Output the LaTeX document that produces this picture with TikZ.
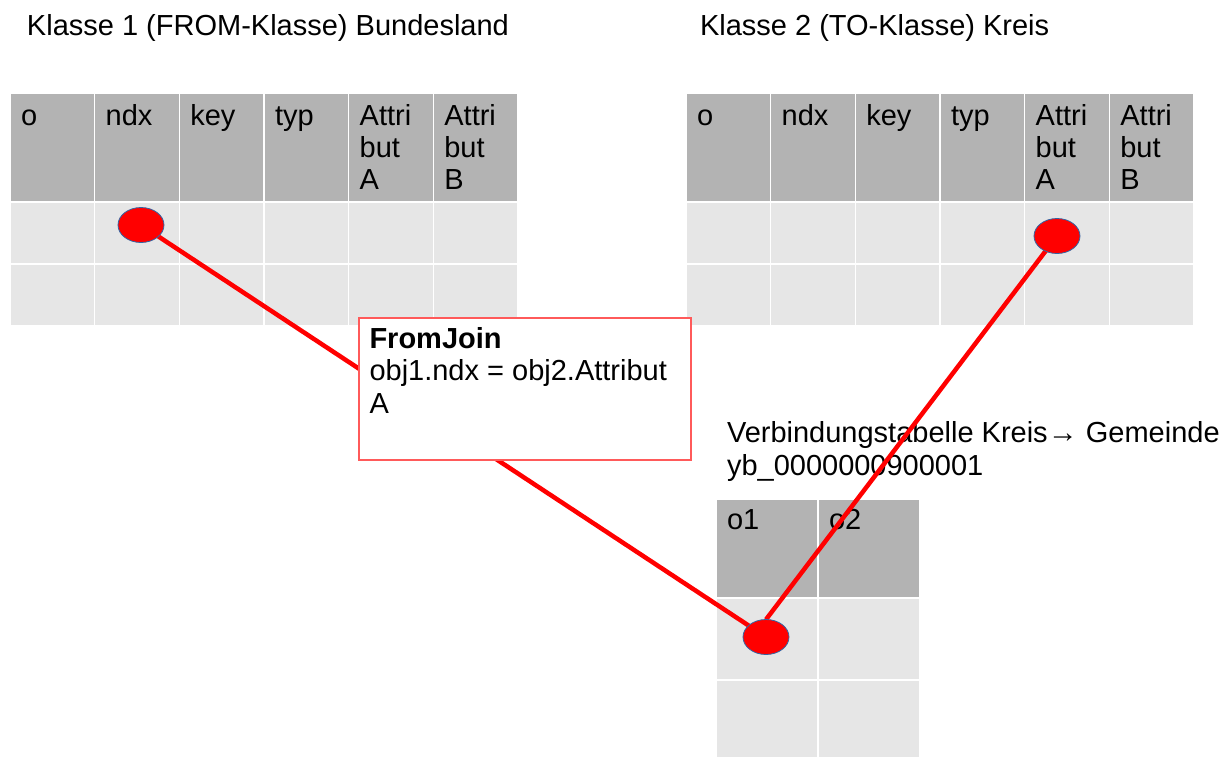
\documentclass[tikz,border=0pt]{standalone}
\usepackage{fontspec}
\setmainfont{Liberation Sans}
\usetikzlibrary{shapes.geometric}
\definecolor{hdr}{HTML}{B3B3B3}
\definecolor{cellgray}{HTML}{E6E6E6}
\definecolor{dotedge}{HTML}{3465A4}
\definecolor{joinred}{HTML}{FF0000}
\definecolor{boxred}{HTML}{FF5A5A}
\pgfdeclarelayer{tables}
\pgfdeclarelayer{links}
\pgfsetlayers{tables,links,main}

\begin{document}
\begin{tikzpicture}[x=1pt,y=-1pt,
  every node/.style={inner sep=0pt, outer sep=0pt, font=\fontsize{29}{32}\selectfont},
  txt/.style={anchor=base west},
  hcell/.style={fill=hdr, draw=white, line width=1.6pt},
  bcell/.style={fill=cellgray, draw=white, line width=1.6pt},
  dot/.style={ellipse, minimum width=46pt, minimum height=35pt, fill=joinred, draw=dotedge, line width=0.8pt},
  link/.style={draw=joinred, line width=4.5pt},
  joinbox/.style={draw=boxred, fill=white, line width=1.2pt, anchor=north west}]

\path[use as bounding box] (0,0) rectangle (1224,756);
\clip (0,0) rectangle (1224,756);

\begin{pgfonlayer}{tables}
% class tables: header row and two body rows
\foreach \tx/\tn in {10/L, 686/R}{
  \foreach \c in {0,...,5}{
    \path[hcell] ({\tx+\c*84.67},93) rectangle ++(84.67,109);
    \path[bcell] ({\tx+\c*84.67},202) rectangle ++(84.67,62);
    \path[bcell] ({\tx+\c*84.67},264) rectangle ++(84.67,62);
  }
  \foreach \c/\lab in {0/o, 1/ndx, 2/key, 3/typ}{
    \node[txt] (\tn h\c) at ({\tx+11+\c*84.67},125.5) {\lab};
  }
  \foreach \c/\lab in {4/A, 5/B}{
    \node[txt] (\tn h\c a) at ({\tx+11+\c*84.67},125.5) {Attri};
    \node[txt] (\tn h\c b) at ({\tx+11+\c*84.67},157.5) {but};
    \node[txt] (\tn h\c c) at ({\tx+11+\c*84.67},189.5) {\lab};
  }
}

% link table
\foreach \c in {0,1}{
  \path[hcell] ({716+\c*102},499) rectangle ++(102,99);
  \path[bcell] ({716+\c*102},598) rectangle ++(102,82);
  \path[bcell] ({716+\c*102},680) rectangle ++(102,90);
}
\node[txt] (lo1) at (727,529.5) {o1};
\node[txt] (lo2) at (829,529.5) {o2};

% titles
\node[txt] (t1) at (27,35) {Klasse 1 (FROM-Klasse) Bundesland};
\node[txt] (t2) at (700,35) {Klasse 2 (TO-Klasse) Kreis};
\node[txt] (t3) at (727,442.5) {Verbindungstabelle Kreis{\fontsize{30}{30}\selectfont →} Gemeinde};
\node[txt] (t4) at (727,475) {yb\_0000000900001};
\end{pgfonlayer}

% join markers
\node[dot] (d1) at (141,225) {};
\node[dot] (d2) at (1057,236) {};
\node[dot] (d3) at (766,637) {};

% links between the joined columns
\begin{pgfonlayer}{links}
\draw[link] (d1.center) -- (d3.center);
\draw[link] (d3.north) -- (d2.center);
\end{pgfonlayer}

% join condition box
\node[joinbox, minimum width=332pt, minimum height=142pt] (join) at (359,318) {};
\node[txt, font=\fontsize{29}{32}\selectfont\bfseries] (j1) at (369.5,348) {FromJoin};
\node[txt] (j2) at (369.5,380.5) {obj1.ndx = obj2.Attribut};
\node[txt] (j3) at (369.5,413) {A};
\end{tikzpicture}
\end{document}
